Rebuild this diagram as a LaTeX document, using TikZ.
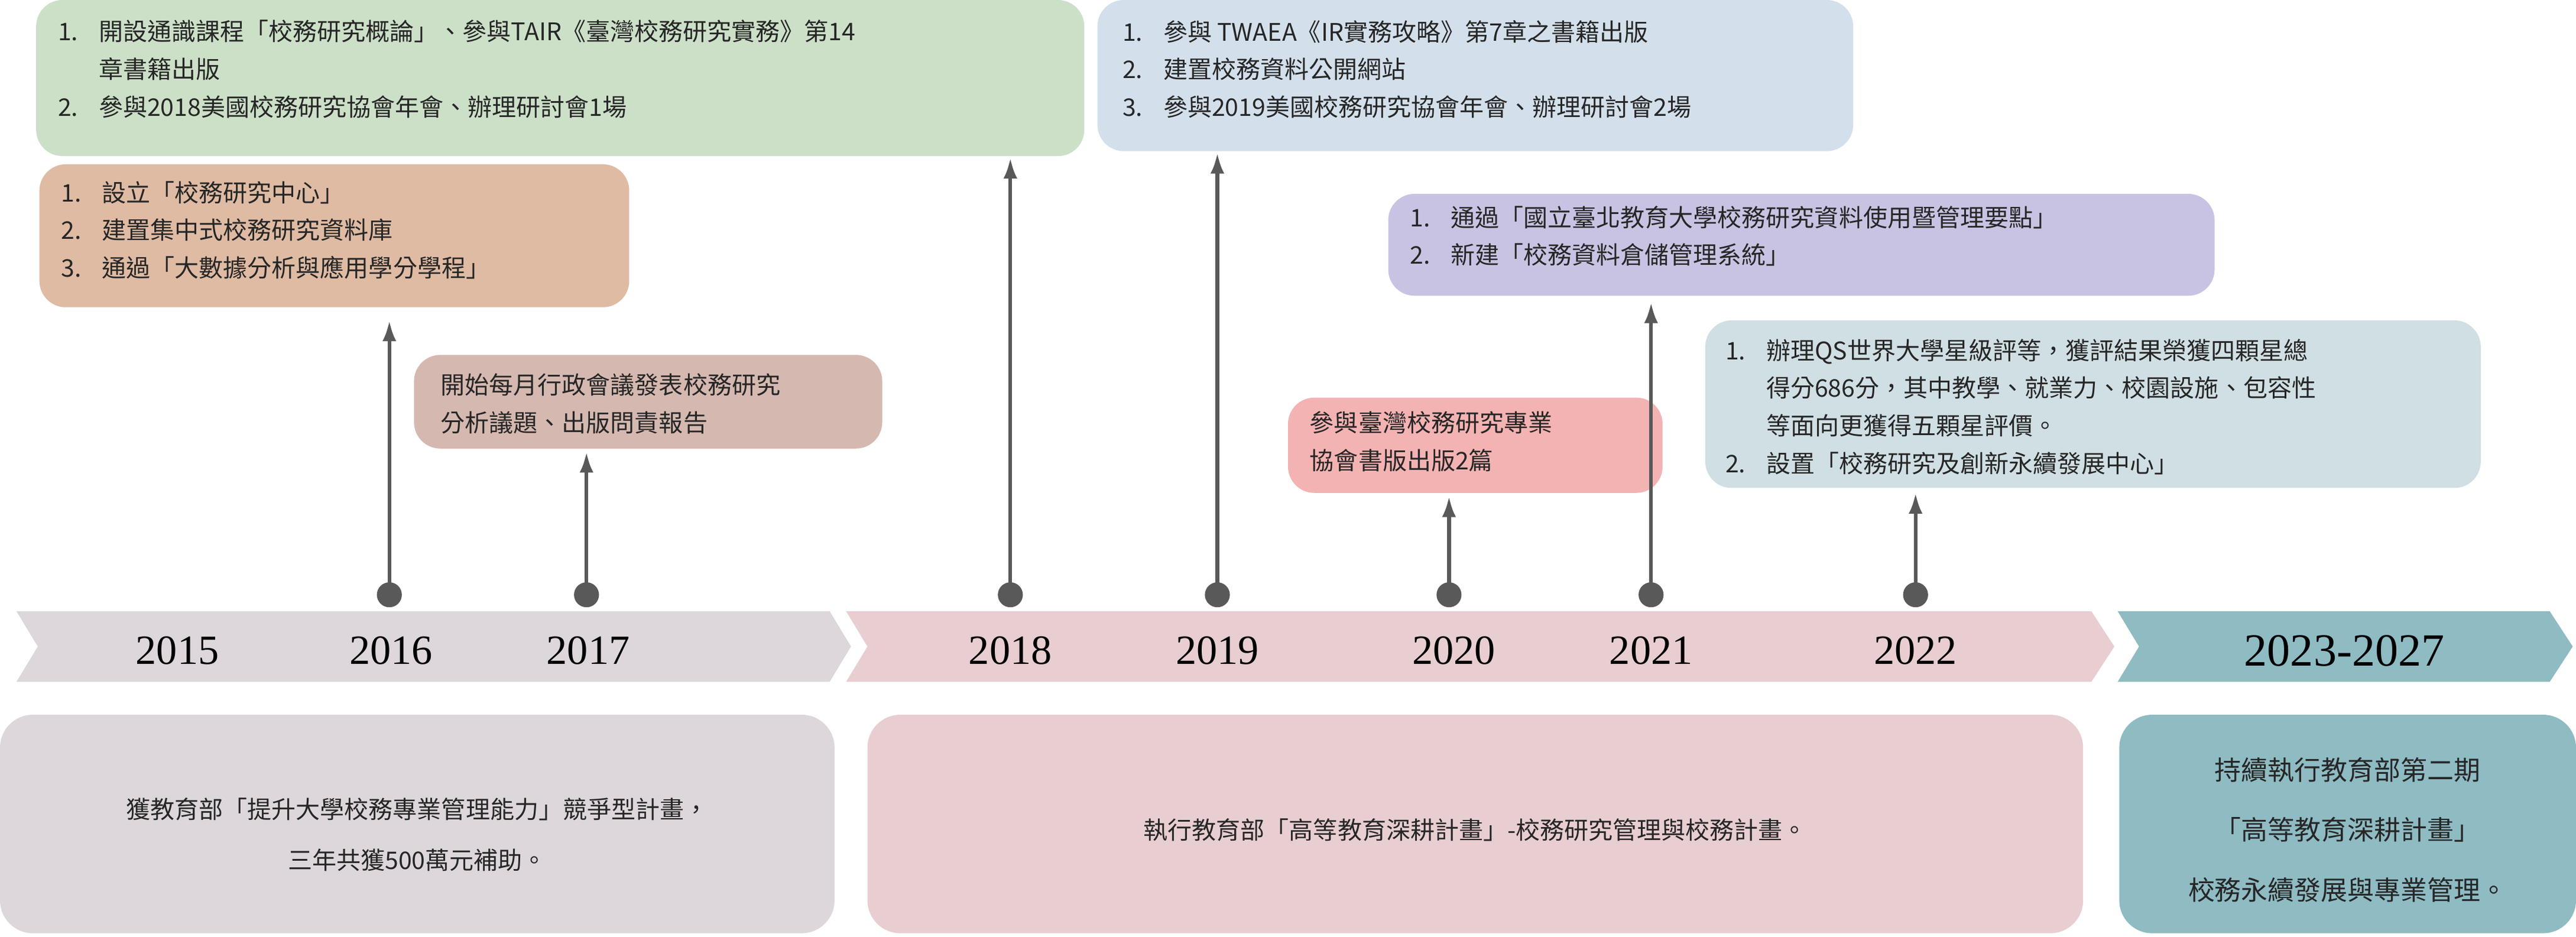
\documentclass[tikz,border=0pt]{standalone}
\usepackage{fontspec}
\setmainfont{Liberation Serif}
\newfontfamily\cjk{Noto Sans CJK TC}
\begin{document}
\begin{tikzpicture}[x=0.025cm,y=-0.025cm,
  box/.style={rounded corners=0.4cm,draw=none},
  txt/.style={anchor=north west,inner sep=0pt,align=left,font=\cjk\fontsize{10.5}{16.3}\selectfont,text=black!85},
  ctxt/.style={inner sep=0pt,align=center,font=\cjk\fontsize{10.5}{22}\selectfont,text=black!85},
  yr/.style={font=\fontsize{18}{20}\selectfont,text=black},
  arr/.style={draw=black!65,line width=1.6pt,-{Latex[length=9pt,width=6pt]}},
  dot/.style={circle,fill=black!65,inner sep=0pt,minimum size=0.38cm}]
\usetikzlibrary{arrows.meta}
\newcommand{\nb}[1]{\makebox[0.62cm][l]{#1}}
\useasboundingbox (0,0) rectangle (1568,570);
\definecolor{cgreen}{HTML}{CCE0C8}
\definecolor{cblue}{HTML}{D3E0EB}
\definecolor{corange}{HTML}{DFBBA3}
\definecolor{cbrown}{HTML}{D5B9B0}
\definecolor{cpurple}{HTML}{C9C3E3}
\definecolor{cpink}{HTML}{F4B3B3}
\definecolor{cgrey}{HTML}{D0DFE4}
\definecolor{band1}{HTML}{DDD7DB}
\definecolor{band2}{HTML}{E8CED1}
\definecolor{band3}{HTML}{8FBBC3}
% top boxes
\fill[box,cgreen] (22,0) rectangle (660,95);
\node[txt] (g) at (35,12) {\nb{1.}開設通識課程「校務研究概論」、參與TAIR《臺灣校務研究實務》第14\\\hspace*{0.62cm}章書籍出版\\\nb{2.}參與2018美國校務研究協會年會、辦理研討會1場};
\fill[box,cblue] (668,0) rectangle (1128,92);
\node[txt] (b) at (683,12) {\nb{1.}參與 TWAEA《IR實務攻略》第7章之書籍出版\\\nb{2.}建置校務資料公開網站\\\nb{3.}參與2019美國校務研究協會年會、辦理研討會2場};
\fill[box,corange] (24,100) rectangle (383,187);
\node[txt] (o) at (37,110) {\nb{1.}設立「校務研究中心」\\\nb{2.}建置集中式校務研究資料庫\\\nb{3.}通過「大數據分析與應用學分學程」};
\fill[box,cbrown] (252,216) rectangle (537,273);
\node[txt] (br) at (268,227) {開始每月行政會議發表校務研究\\分析議題、出版問責報告};
\fill[box,cpurple] (845,118) rectangle (1348,180);
\node[txt] (p) at (858,125) {\nb{1.}通過「國立臺北教育大學校務研究資料使用暨管理要點」\\\nb{2.}新建「校務資料倉儲管理系統」};
\fill[box,cpink] (784,242) rectangle (1012,300);
\node[txt] (pk) at (797,250) {參與臺灣校務研究專業\\協會書版出版2篇};
\fill[box,cgrey] (1038,195) rectangle (1510,297);
\node[txt] (gr) at (1050,206) {\nb{1.}辦理QS世界大學星級評等，獲評結果榮獲四顆星總\\\hspace*{0.62cm}得分686分，其中教學、就業力、校園設施、包容性\\\hspace*{0.62cm}等面向更獲得五顆星評價。\\\nb{2.}設置「校務研究及創新永續發展中心」};
% bands
\fill[band1] (10,372)--(505,372)--(518,393.5)--(505,415)--(10,415)--(23,393.5)--cycle;
\fill[band2] (515,372)--(1273,372)--(1287,393.5)--(1273,415)--(515,415)--(528,393.5)--cycle;
\fill[band3] (1289,372)--(1552,372)--(1566,393.5)--(1552,415)--(1289,415)--(1302,393.5)--cycle;
\node[yr] at (108,396) {2015};
\node[yr] at (238,396) {2016};
\node[yr] at (358,396) {2017};
\node[yr] at (615,396) {2018};
\node[yr] at (741,396) {2019};
\node[yr] at (885,396) {2020};
\node[yr] at (1005,396) {2021};
\node[yr] at (1166,396) {2022};
\node[yr,font=\fontsize{20}{22}\selectfont] at (1427,396) {2023-2027};
% dots and arrows
\foreach \n/\x/\t in {a/237/195, b/357/275, c/615/96, d/741/93, e/882/302, f/1005/184, h/1166/300}{
  \node[dot] (d\n) at (\x,362) {};
  \coordinate (t\n) at (\x,\t);
  \draw[arr] (d\n.center) -- (t\n);
}
% bottom
\fill[box,band1,rounded corners=0.5cm] (0,435) rectangle (508,568);
\node[ctxt] (bt1) at (254,508) {獲教育部「提升大學校務專業管理能力」競爭型計畫，\\三年共獲500萬元補助。};
\fill[box,band2,rounded corners=0.5cm] (528,435) rectangle (1268,568);
\node[ctxt] (bt2) at (898,505) {執行教育部「高等教育深耕計畫」-校務研究管理與校務計畫。};
\fill[box,band3,rounded corners=0.5cm] (1290,435) rectangle (1568,568);
\node[ctxt,font=\cjk\fontsize{11.5}{26}\selectfont] (bt3) at (1429,505) {持續執行教育部第二期\\「高等教育深耕計畫」\\校務永續發展與專業管理。};
\end{tikzpicture}
\end{document}
